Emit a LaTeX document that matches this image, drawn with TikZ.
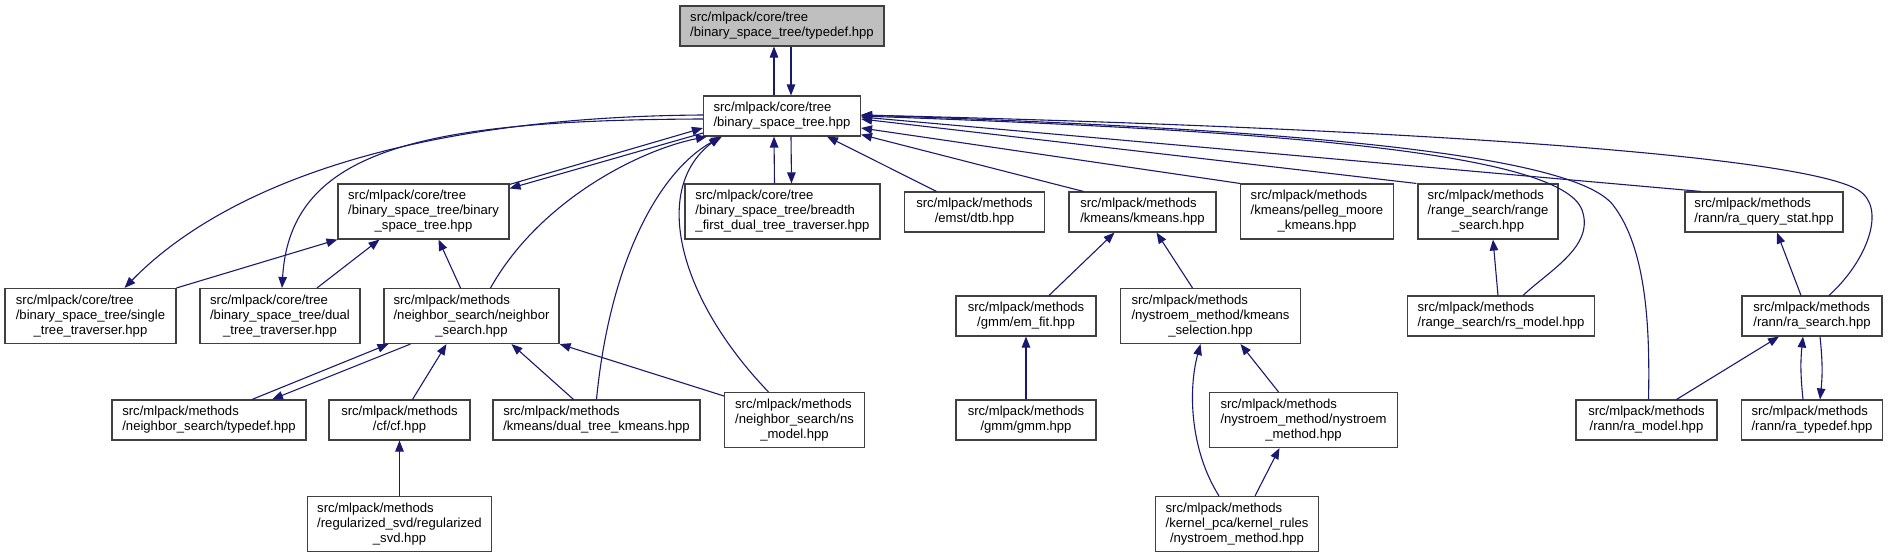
\documentclass[tikz,border=0pt]{standalone}
\usepackage{fontspec}
\setmainfont{Liberation Sans}
\usetikzlibrary{arrows.meta}
\definecolor{Ec}{HTML}{191970}
\definecolor{Bc}{HTML}{404040}
\definecolor{Gc}{HTML}{BFBFBF}
\tikzset{
  file/.style={rectangle, draw=Bc, line width=1.1pt, fill=white, inner xsep=3pt, inner ysep=5pt,
    minimum height=40pt, font=\fontsize{13.1}{15}\selectfont},
  rootf/.style={file, fill=Gc},
  tall/.style={minimum height=55pt},
  inc/.style={-{Triangle[length=11pt, width=8.5pt]}, draw=Ec, line width=1.1pt},
}
\newcommand{\TwoL}[2]{\begin{tabular}{@{}l@{}}#1\\\multicolumn{1}{@{}c@{}}{#2}\end{tabular}}
\newcommand{\ThreeL}[3]{\begin{tabular}{@{}l@{}}#1\\#2\\\multicolumn{1}{@{}c@{}}{#3}\end{tabular}}

\begin{document}
\begin{tikzpicture}[x=1pt, y=-1pt]
  \useasboundingbox (0,0) rectangle (1888,557);
  \node[rootf, minimum width=204pt] (tdef) at (782,26) {\TwoL{src/mlpack/core/tree}{/binary\_space\_tree/typedef.hpp}};
  \node[file, minimum width=157pt] (bst) at (782,116) {\TwoL{src/mlpack/core/tree}{/binary\_space\_tree.hpp}};
  \node[file, tall, minimum width=171pt] (bstb) at (423.5,211.5) {\ThreeL{src/mlpack/core/tree}{/binary\_space\_tree/binary}{\_space\_tree.hpp}};
  \node[file, tall, minimum width=195pt] (bft) at (782.5,211.5) {\ThreeL{src/mlpack/core/tree}{/binary\_space\_tree/breadth}{\_first\_dual\_tree\_traverser.hpp}};
  \node[file, minimum width=140pt] (emst) at (974.5,212) {\TwoL{src/mlpack/methods}{/emst/dtb.hpp}};
  \node[file, minimum width=147pt] (kmeans) at (1142.5,212) {\TwoL{src/mlpack/methods}{/kmeans/kmeans.hpp}};
  \node[file, tall, minimum width=153pt] (pelleg) at (1317,211.5) {\ThreeL{src/mlpack/methods}{/kmeans/pelleg\_moore}{\_kmeans.hpp}};
  \node[file, tall, minimum width=140pt] (rsearch) at (1488,211.5) {\ThreeL{src/mlpack/methods}{/range\_search/range}{\_search.hpp}};
  \node[file, minimum width=158pt] (raqs) at (1764,212) {\TwoL{src/mlpack/methods}{/rann/ra\_query\_stat.hpp}};
  \node[file, tall, minimum width=171pt] (single) at (90.5,316) {\ThreeL{src/mlpack/core/tree}{/binary\_space\_tree/single}{\_tree\_traverser.hpp}};
  \node[file, tall, minimum width=160pt] (dual) at (280,316) {\ThreeL{src/mlpack/core/tree}{/binary\_space\_tree/dual}{\_tree\_traverser.hpp}};
  \node[file, tall, minimum width=175pt] (nsearch) at (471.5,316) {\ThreeL{src/mlpack/methods}{/neighbor\_search/neighbor}{\_search.hpp}};
  \node[file, minimum width=140pt] (emfit) at (1026,316) {\TwoL{src/mlpack/methods}{/gmm/em\_fit.hpp}};
  \node[file, tall, minimum width=180pt] (kmsel) at (1210.5,316) {\ThreeL{src/mlpack/methods}{/nystroem\_method/kmeans}{\_selection.hpp}};
  \node[file, minimum width=187pt] (rsmodel) at (1501,316) {\TwoL{src/mlpack/methods}{/range\_search/rs\_model.hpp}};
  \node[file, minimum width=140pt] (rasearch) at (1812,316) {\TwoL{src/mlpack/methods}{/rann/ra\_search.hpp}};
  \node[file, minimum width=194pt] (nstdef) at (209,420) {\TwoL{src/mlpack/methods}{/neighbor\_search/typedef.hpp}};
  \node[file, minimum width=141pt] (cf) at (399.5,420) {\TwoL{src/mlpack/methods}{/cf/cf.hpp}};
  \node[file, minimum width=207pt] (dtk) at (596.5,420) {\TwoL{src/mlpack/methods}{/kmeans/dual\_tree\_kmeans.hpp}};
  \node[file, tall, minimum width=140pt] (nsmodel) at (794.5,420) {\ThreeL{src/mlpack/methods}{/neighbor\_search/ns}{\_model.hpp}};
  \node[file, minimum width=140pt] (gmm) at (1026,420) {\TwoL{src/mlpack/methods}{/gmm/gmm.hpp}};
  \node[file, tall, minimum width=188pt] (nysm) at (1303.5,420) {\ThreeL{src/mlpack/methods}{/nystroem\_method/nystroem}{\_method.hpp}};
  \node[file, minimum width=141pt] (ramodel) at (1646.5,420) {\TwoL{src/mlpack/methods}{/rann/ra\_model.hpp}};
  \node[file, minimum width=141pt] (ratdef) at (1812,420) {\TwoL{src/mlpack/methods}{/rann/ra\_typedef.hpp}};
  \node[file, tall, minimum width=184pt] (rsvd) at (399.5,524) {\ThreeL{src/mlpack/methods}{/regularized\_svd/regularized}{\_svd.hpp}};
  \node[file, tall, minimum width=163pt] (krules) at (1237,524) {\ThreeL{src/mlpack/methods}{/kernel\_pca/kernel\_rules}{/nystroem\_method.hpp}};
  \draw[inc] ([xshift=-8pt]bst.north) -- ([xshift=-8pt]tdef.south);
  \draw[inc] ([xshift=9pt]tdef.south) -- ([xshift=9pt]bst.north);
  \draw[inc] ([xshift=-8pt]bft.north) -- ([xshift=-8pt]bst.south);
  \draw[inc] ([xshift=9pt]bst.south) -- ([xshift=9pt]bft.north);
  \draw[inc] ([yshift=-1pt]bstb.north east) -- ([yshift=-12pt]bst.west);
  \draw[inc] ([yshift=-17pt]bst.west) -- ([yshift=-5pt]bstb.north east);
  \draw[inc] ([yshift=1pt]bst.west) .. controls (400,117) and (220,190) .. ([xshift=34pt]single.north);
  \draw[inc] ([yshift=-3pt]bst.west) .. controls (420,120) and (290,150) .. ([xshift=2pt]dual.north);
  \draw[inc] ([xshift=19pt]nsearch.north) .. controls (540,200) and (640,150) .. ([xshift=4pt]bst.south west);
  \draw[inc] (single.north east) -- (bstb.south west);
  \draw[inc] ([xshift=37pt]dual.north) -- ([xshift=-44pt]bstb.south);
  \draw[inc] ([xshift=-11pt]nsearch.north) -- ([xshift=15pt]bstb.south);
  \draw[inc] (dtk.north) .. controls (610,260) and (660,170) .. ([xshift=-60pt]bst.south);
  \draw[inc] ([xshift=-26pt]nsmodel.north) .. controls (680,300) and (650,190) .. ([xshift=-62pt]bst.south);
  \draw[inc] ([xshift=-38pt]emst.north) -- ([xshift=45pt]bst.south);
  \draw[inc] ([xshift=-59pt]kmeans.north) -- ([yshift=2pt]bst.south east);
  \draw[inc] (pelleg.north west) -- ([yshift=-12pt]bst.east);
  \draw[inc] ([xshift=-1pt]rsearch.north west) -- ([yshift=-3pt]bst.east);
  \draw[inc] ([xshift=-63pt]raqs.north) -- ([yshift=-1pt]bst.east);
  \draw[inc] ([xshift=22pt]rsmodel.north) .. controls (1550,270) and (1595,246) .. (1582,210)
    .. controls (1560,150) and (1250,130) .. (bst.east);
  \draw[inc] ([xshift=2pt]ramodel.north) .. controls (1650,330) and (1647,249) .. (1613,205)
    .. controls (1570,150) and (1250,128) .. ([yshift=1pt]bst.east);
  \draw[inc] ([xshift=17pt]rasearch.north) .. controls (1868,260) and (1887,207) .. (1858,190)
    .. controls (1800,155) and (1400,128) .. ([yshift=1pt]bst.east);
  \draw[inc] ([xshift=-11pt]rasearch.north) -- ([xshift=13pt]raqs.south);
  \draw[inc] ([xshift=-3pt]rsmodel.north) -- ([xshift=5pt]rsearch.south);
  \draw[inc] ([xshift=30pt]ramodel.north) -- ([xshift=-33pt]rasearch.south);
  \draw[inc] ([xshift=-9pt]ratdef.north) to[bend left=6] ([xshift=-9pt]rasearch.south);
  \draw[inc] ([xshift=8pt]rasearch.south) to[bend left=6] ([xshift=8pt]ratdef.north);
  \draw[inc] ([xshift=23pt]emfit.north) -- ([xshift=-28pt]kmeans.south);
  \draw[inc] ([xshift=-18pt]kmsel.north) -- ([xshift=14pt]kmeans.south);
  \draw[inc] (gmm.north) -- (emfit.south);
  \draw[inc] ([xshift=-18pt]krules.north) .. controls (1190,450) and (1188,390) .. ([xshift=-10pt]kmsel.south);
  \draw[inc] ([xshift=-25pt]nysm.north) -- ([xshift=30pt]kmsel.south);
  \draw[inc] ([xshift=18pt]krules.north) -- ([xshift=-24pt]nysm.south);
  \draw[inc] ([xshift=43pt]nstdef.north) -- ([xshift=-83pt]nsearch.south);
  \draw[inc] ([xshift=-61pt]nsearch.south) -- ([xshift=63pt]nstdef.north);
  \draw[inc] ([xshift=13pt]cf.north) -- ([xshift=-25pt]nsearch.south);
  \draw[inc] ([xshift=-23pt]dtk.north) -- ([xshift=40pt]nsearch.south);
  \draw[inc] ([yshift=24pt]nsmodel.west) -- (nsearch.south east);
  \draw[inc] (rsvd.north) -- (cf.south);
\end{tikzpicture}
\end{document}
